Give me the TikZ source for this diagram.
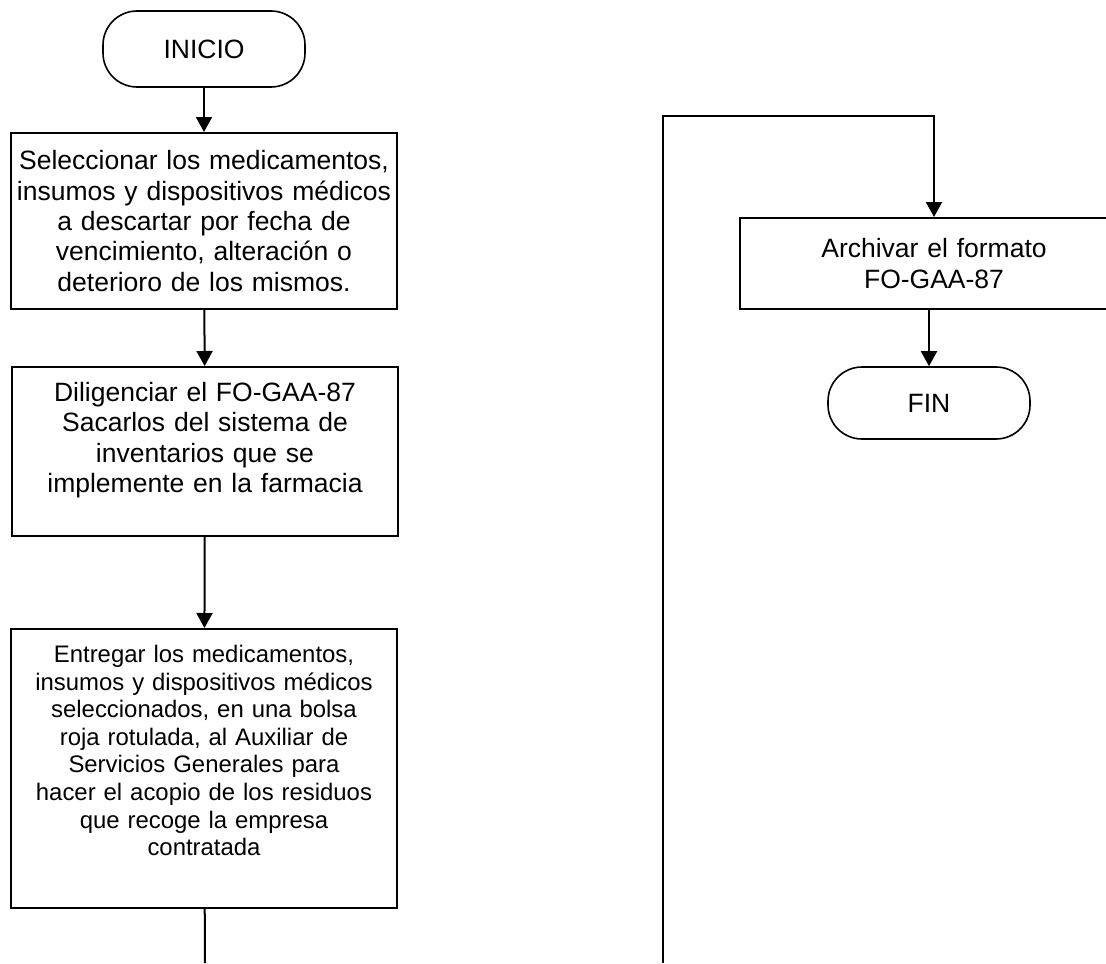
\documentclass[tikz,border=0pt]{standalone}
\usepackage{fontspec}
\setmainfont{Liberation Sans}
\usetikzlibrary{calc,arrows.meta}
\tikzstyle{procbox}=[rectangle,draw=black,fill=white,line width=1pt,
                     minimum width=193pt,inner sep=0pt,align=center,text width=190pt,
                     font=\fontsize{13.25}{15.2}\selectfont]
\tikzstyle{terminal}=[rectangle,rounded corners=17pt,draw=black,line width=0.8pt,
                      minimum width=101pt,inner sep=0pt,font=\fontsize{13.25}{15.2}\selectfont]
\tikzstyle{flecha}=[line width=1pt,-{Triangle[length=7.5pt,width=8pt]}]
\tikzstyle{linea}=[line width=1pt]
\newcommand\abajo[1]{\rule[-#1]{0pt}{0pt}}

\begin{document}
\begin{tikzpicture}[x=0.5pt,y=-0.5pt]
    \useasboundingbox (0,0) rectangle (1106,963);
    % columna izquierda
    \node [terminal,minimum height=38pt] (inicio) at (204,49) {INICIO};
    \node [procbox,minimum height=88pt] (seleccionar) at (204,221) {
        Seleccionar los medicamentos,\\ insumos y dispositivos médicos\\ a descartar por fecha de\\
        vencimiento, alteración o\\ deterioro de los mismos.
    };
    \node [procbox,minimum height=84.5pt] (diligenciar) at (205,451.5) {
        Diligenciar el FO-GAA-87\\ Sacarlos del sistema de\\ inventarios que se\\
        implemente en la farmacia\abajo{14.3pt}
    };
    \node [procbox,minimum height=139.5pt,font=\fontsize{11.95}{13.8}\selectfont] (entregar) at (204,768.5) {
        Entregar los medicamentos,\\ insumos y dispositivos médicos\\ seleccionados, en una bolsa\\
        roja rotulada, al Auxiliar de\\ Servicios Generales para\\ hacer el acopio de los residuos\\
        que recoge la empresa\\ contratada\abajo{18pt}
    };
    \coordinate (fondoizq) at (205,963);
    % columna derecha
    \coordinate (fondoder) at (663,963);
    \coordinate (giro) at (663,116);
    \node [procbox,minimum width=194pt,minimum height=45.5pt] (archivar) at (934,263.5) {
        Archivar el formato\\ FO-GAA-87
    };
    \node [terminal,minimum height=36pt] (fin) at (929,403) {FIN};

    \draw [flecha] (inicio) -- (seleccionar);
    \draw [flecha] (seleccionar) -- (diligenciar);
    \draw [flecha] (diligenciar) -- (entregar);
    \draw [linea] (entregar) -- (fondoizq);
    \draw [flecha] (fondoder) -- (giro) -| (archivar.north);
    \draw [flecha] (archivar.south -| fin) -- (fin);
\end{tikzpicture}
\end{document}
